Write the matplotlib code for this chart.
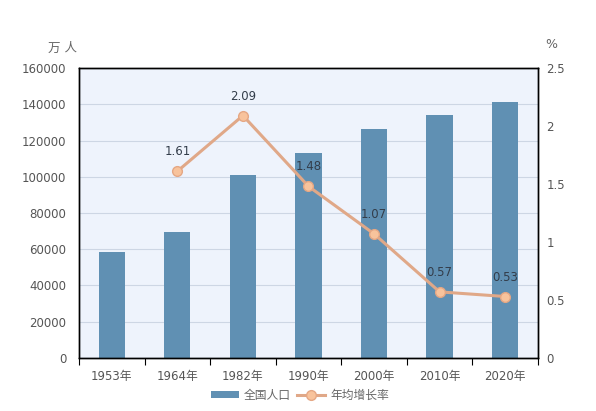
import matplotlib
matplotlib.use("Agg")
import matplotlib.pyplot as plt
import numpy as np
from matplotlib.lines import Line2D
from matplotlib.patches import Patch

categories = ["1953年", "1964年", "1982年", "1990年", "2000年", "2010年", "2020年"]
population = [58260, 69458, 100818, 113368, 126583, 133972, 141178]
growth = [None, 1.61, 2.09, 1.48, 1.07, 0.57, 0.53]
growth_labels = ["", "1.61", "2.09", "1.48", "1.07", "0.57", "0.53"]

FONT = ["DejaVu Sans", "Noto Sans CJK SC"]
plt.rcParams['font.family'] = FONT
TXT = "#555555"

fig = plt.figure(figsize=(5.96, 4.11), dpi=100)
ax = fig.add_axes([0.1326, 0.129, 0.770, 0.7055])
ax.set_facecolor("#EEF3FC")
x = np.arange(len(categories))
ax.bar(x, population, width=0.4, color="#6090B3", zorder=2)
ax.set_xlim(-0.5, len(categories) - 0.5)
ax.set_ylim(0, 160000)
ax.set_yticks(np.arange(0, 160001, 20000))
ax.yaxis.grid(True, color="#CDD6E4", linewidth=0.8, zorder=0)
ax.set_axisbelow(True)
ax.tick_params(axis='y', length=0, labelsize=8.5, labelcolor=TXT, pad=9)
ax.set_xticks(x)
ax.set_xticklabels(categories)
ax.set_xticks(np.arange(-0.5, len(categories) - 0.4, 1), minor=True)
ax.tick_params(axis='x', which='major', length=0, labelsize=8.5, labelcolor=TXT, pad=9)
ax.tick_params(axis='x', which='minor', length=5, direction='out', color='black', width=0.8)
for s in ax.spines.values():
    s.set_color("black")
    s.set_linewidth(1.0)

ax2 = ax.twinx()
xs = [i for i, g in enumerate(growth) if g is not None]
ys = [g for g in growth if g is not None]
ax2.plot(xs, ys, color="#E0A888", linewidth=2.2, marker='o', markersize=7,
         markerfacecolor="#F8C39C", markeredgecolor="#E5A784", markeredgewidth=1, zorder=3)
for i, g in enumerate(growth):
    if g is not None:
        ax2.annotate(growth_labels[i], (i, g), xytext=(0, 14), textcoords='offset points',
                     ha='center', va='center', fontsize=8.5, color="#333D4A")
ax2.set_ylim(0, 2.5)
ax2.set_yticks([0, 0.5, 1, 1.5, 2, 2.5])
ax2.set_yticklabels(["0", "0.5", "1", "1.5", "2", "2.5"])
ax2.tick_params(axis='y', length=0, labelsize=8.5, labelcolor=TXT, pad=6)
for s in ax2.spines.values():
    s.set_color("black")
    s.set_linewidth(1.0)

fig.text(63 / 596, 1 - 48 / 411, "万 人", ha='center', va='center', fontsize=9, color="#666666", family=FONT)
fig.text(551 / 596, 1 - 45 / 411, "%", ha='center', va='center', fontsize=9, color="#666666", family=FONT)

handles = [Patch(facecolor="#6090B3", edgecolor='none'),
           Line2D([0], [0], color="#E0A888", linewidth=2.2, marker='o', markersize=7,
                  markerfacecolor="#F8C39C", markeredgecolor="#E5A784")]
leg = fig.legend(handles, ["全国人口", "年均增长率"], loc='center', bbox_to_anchor=(300 / 596, 1 - 395 / 411),
                 ncol=2, frameon=False, fontsize=8.5, handlelength=2.4, handleheight=0.6,
                 columnspacing=0.5, handletextpad=0.4, labelcolor="#666666")

fig.savefig("out.png", dpi=100)
